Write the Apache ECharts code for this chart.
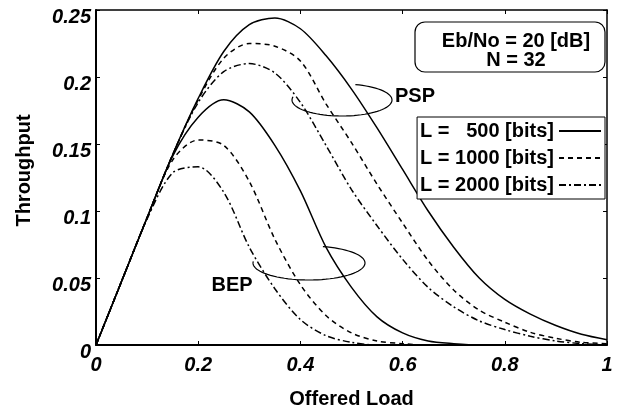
<!DOCTYPE html>
<html>
<head>
<meta charset="utf-8">
<script src="https://cdn.jsdelivr.net/npm/echarts@6/dist/echarts.min.js"></script>
<style>
html, body { margin: 0; padding: 0; background: #fff; }
#chart { width: 618px; height: 414px; }
</style>
</head>
<body>
<div id="chart"></div>
<script>
// offered load (x) samples
const offeredLoad = [0, 0.05, 0.1, 0.15, 0.2, 0.25, 0.3, 0.35, 0.4, 0.45, 0.5,
  0.55, 0.6, 0.65, 0.7, 0.75, 0.8, 0.85, 0.9, 0.95, 1]

// PSP throughput
const psp500 = [0, 0.0475, 0.095, 0.142, 0.184, 0.219, 0.239, 0.244, 0.236, 0.216, 0.191,
  0.162, 0.131, 0.100, 0.073, 0.050, 0.034, 0.023, 0.0145, 0.008, 0.004]
const psp1000 = [0, 0.0475, 0.095, 0.142, 0.183, 0.214, 0.225, 0.223, 0.212, 0.180, 0.151,
  0.120, 0.091, 0.063, 0.041, 0.026, 0.017, 0.0095, 0.005, 0.002, 0.001]
const psp2000 = [0, 0.0475, 0.095, 0.142, 0.181, 0.204, 0.210, 0.203, 0.181, 0.149, 0.116,
  0.089, 0.064, 0.043, 0.0285, 0.018, 0.0115, 0.0065, 0.003, 0.001, 0]

// BEP throughput
const bep500 = [0, 0.0475, 0.095, 0.141, 0.170, 0.183, 0.174, 0.149, 0.115, 0.073, 0.043,
  0.021, 0.009, 0.003, 0.001, 0, 0, 0, 0, 0, 0]
const bep1000 = [0, 0.0475, 0.095, 0.138, 0.153, 0.149, 0.122, 0.079, 0.045, 0.022, 0.009,
  0.003, 0.001, 0, 0, 0, 0, 0, 0, 0, 0]
const bep2000 = [0, 0.0475, 0.094, 0.1285, 0.133, 0.114, 0.073, 0.042, 0.019, 0.007, 0.002,
  0, 0, 0, 0, 0, 0, 0, 0, 0, 0]

const legendNames = ['L =   500 [bits]', 'L = 1000 [bits]', 'L = 2000 [bits]']

const FONT = 'Liberation Sans, Arial, sans-serif'
const chart = echarts.init(document.getElementById('chart'))

const pairs = ys => offeredLoad.map((x, i) => [x, ys[i]])
const dashes = ['solid', [5, 4], [7, 3, 2, 3]]

// 开口椭圆（注释用）
const openEllipse = (cx, cy, rx, ry, t0, t1) => {
  const pts = []
  for (let k = 0; k <= 60; k++) {
    const t = t0 + (t1 - t0) * k / 60
    pts.push([cx + rx * Math.cos(t), cy + ry * Math.sin(t)])
  }
  return pts
}

const makeSeries = (name, ys, idx) => ({
  name,
  type: 'line',
  data: pairs(ys),
  symbol: 'none',
  smooth: 0.3,
  lineStyle: { color: '#000', width: 1.5, type: dashes[idx] },
  itemStyle: { color: '#000' },
  z: 3
})

const axisBase = {
  min: 0,
  axisLine: { show: true, onZero: false, lineStyle: { color: '#000', width: 2 } },
  axisTick: { show: true, inside: true, length: 4, lineStyle: { color: '#000' } },
  splitLine: { show: false }
}

const opt = {
  animation: false,
  backgroundColor: '#fff',
  grid: { left: 96, right: 11, top: 10, bottom: 68 },
  xAxis: [
    {
      ...axisBase, type: 'value', max: 1, interval: 0.2, position: 'bottom',
      name: 'Offered Load', nameLocation: 'middle', nameGap: 44,
      nameTextStyle: { fontFamily: FONT, fontWeight: 'bold', fontSize: 20, color: '#000' },
      axisLabel: { margin: 10, fontFamily: FONT, fontWeight: 'bold', fontStyle: 'italic', fontSize: 20, color: '#000' }
    },
    {
      ...axisBase, type: 'value', max: 1, interval: 0.2, position: 'top',
      axisLine: { show: true, onZero: false, lineStyle: { color: '#000', width: 1.5 } },
      axisLabel: { show: false }
    }
  ],
  yAxis: [
    {
      ...axisBase, type: 'value', max: 0.25, interval: 0.05, position: 'left',
      name: 'Throughput', nameLocation: 'middle', nameGap: 62,
      nameTextStyle: { fontFamily: FONT, fontWeight: 'bold', fontSize: 20, color: '#000', padding: [0, 0, 0, 14] },
      axisLabel: {
        margin: 5, verticalAlign: 'top', lineHeight: 15,
        fontFamily: FONT, fontWeight: 'bold', fontStyle: 'italic', fontSize: 20, color: '#000'
      }
    },
    {
      ...axisBase, type: 'value', max: 0.25, interval: 0.05, position: 'right',
      axisLine: { show: true, onZero: false, lineStyle: { color: '#000', width: 1.5 } },
      axisLabel: { show: false }
    }
  ],
  legend: {
    data: legendNames,
    orient: 'vertical',
    align: 'right',
    right: 13,
    top: 117,
    padding: [2, 3, 2, 3],
    itemGap: 3,
    itemWidth: 42,
    itemHeight: 14,
    backgroundColor: '#fff',
    borderColor: '#000',
    borderWidth: 1,
    borderRadius: 0,
    itemStyle: { opacity: 0 },
    textStyle: { fontFamily: FONT, fontWeight: 'bold', fontSize: 20, lineHeight: 24, color: '#000' }
  },
  series: [
    makeSeries(legendNames[0], psp500, 0),
    makeSeries(legendNames[1], psp1000, 1),
    makeSeries(legendNames[2], psp2000, 2),
    makeSeries(legendNames[0], bep500, 0),
    makeSeries(legendNames[1], bep1000, 1),
    makeSeries(legendNames[2], bep2000, 2)
  ],
  graphic: [
    {
      type: 'polyline', z: 10,
      shape: { points: openEllipse(342, 100, 50, 16, Math.PI + 0.2, -1.3) },
      style: { stroke: '#000', lineWidth: 1.2, fill: null }
    },
    {
      type: 'polyline', z: 10,
      shape: { points: openEllipse(309, 263, 56, 17, Math.PI + 0.1, -1.32) },
      style: { stroke: '#000', lineWidth: 1.2, fill: null }
    },
    {
      type: 'text', z: 10, x: 415, y: 96,
      style: { text: 'PSP', fontFamily: FONT, fontWeight: 'bold', fontSize: 20, fill: '#000', align: 'center', verticalAlign: 'middle' }
    },
    {
      type: 'text', z: 10, x: 232, y: 285,
      style: { text: 'BEP', fontFamily: FONT, fontWeight: 'bold', fontSize: 20, fill: '#000', align: 'center', verticalAlign: 'middle' }
    },
    {
      type: 'rect', z: 10,
      shape: { x: 415, y: 22, width: 190, height: 50, r: 10 },
      style: { stroke: '#000', lineWidth: 1.2, fill: '#fff' }
    },
    {
      type: 'text', z: 11, x: 516, y: 51,
      style: {
        text: 'Eb/No = 20 [dB]\nN = 32', fontFamily: FONT, fontWeight: 'bold', fontSize: 20,
        lineHeight: 19, fill: '#000', align: 'center', verticalAlign: 'middle'
      }
    }
  ]
}

chart.setOption(opt)
</script>
</body>
</html>
